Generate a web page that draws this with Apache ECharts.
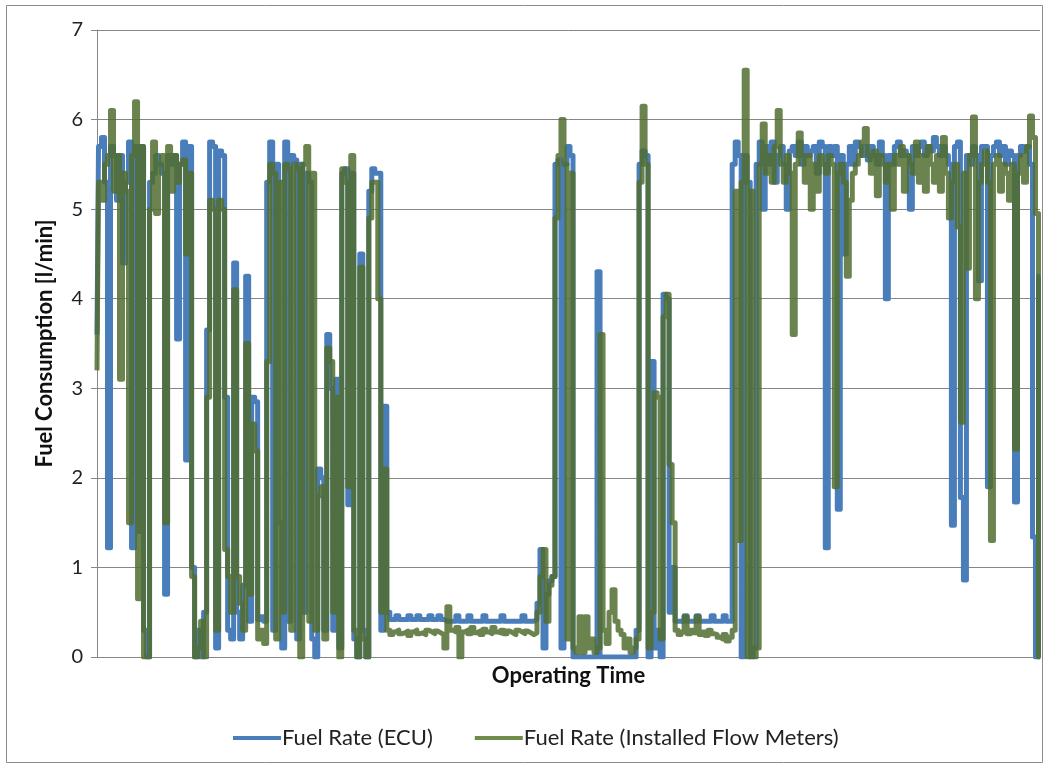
<!DOCTYPE html>
<html>
<head>
<meta charset="utf-8">
<script src="https://cdn.jsdelivr.net/npm/echarts@6/dist/echarts.min.js"></script>
<style>
  html, body { margin: 0; padding: 0; background: #ffffff; }
  #chart { width: 1049px; height: 770px; }
</style>
</head>
<body>
<div id="chart"></div>
<script>
// Y axis tick labels
const yTicks = [0, 1, 2, 3, 4, 5, 6, 7];

// Fuel Rate (ECU) [l/min], sampled along operating time
const fuelEcu = [
  3.6, 5.7, 5.8, 5.3, 1.22, 5.7, 5.6, 5.1, 5.6, 4.4,
  5.3, 5.75, 1.22, 5.7, 1.4, 5.7, 0.3, 0, 5.3, 5.4,
  5.6, 5.5, 5.4, 0.7, 5.6, 5.5, 5.6, 3.55, 5.5, 5.75,
  2.2, 5.7, 1.0, 0, 0.3, 0, 0.5, 3.65, 5.75, 5.7,
  0.1, 5.65, 5.6, 2.9, 0.3, 0.2, 4.4, 0.5, 0.2, 0.8,
  4.25, 0.4, 2.9, 2.85, 0.42, 0.45, 0.4, 5.3, 5.75, 0.3,
  5.5, 1.5, 0.1, 5.75, 0.4, 5.6, 5.55, 0.2, 5.5, 0.5,
  5.4, 5.3, 0.2, 0, 2.1, 2.0, 0.3, 3.6, 3.0, 0.3,
  3.1, 0.1, 5.4, 5.45, 1.7, 5.4, 0.2, 0, 4.5, 0.3,
  0, 5.2, 5.45, 5.4, 5.4, 0.3, 2.8, 0.5, 0.42, 0.42,
  0.46, 0.42, 0.42, 0.42, 0.46, 0.42, 0.42, 0.46, 0.42, 0.42,
  0.42, 0.46, 0.42, 0.42, 0.46, 0.42, 0.4, 0.4, 0.4, 0.4,
  0.46, 0.4, 0.4, 0.4, 0.46, 0.4, 0.4, 0.4, 0.4, 0.46,
  0.4, 0.4, 0.4, 0.4, 0.4, 0.46, 0.4, 0.4, 0.4, 0.4,
  0.4, 0.4, 0.46, 0.4, 0.4, 0.4, 0.42, 0.6, 1.2, 0.1,
  0.7, 0.85, 0.9, 5.5, 5.55, 0.1, 5.5, 5.7, 5.6, 0,
  0, 0, 0, 0, 0, 0, 0, 4.3, 0, 0,
  0, 0, 0, 0, 0, 0, 0, 0, 0, 0,
  0.3, 5.5, 5.65, 5.6, 0, 3.3, 0.1, 0.3, 0, 4.05,
  4.0, 0.5, 1.0, 0.4, 0.4, 0.4, 0.46, 0.4, 0.4, 0.4,
  0.46, 0.4, 0.4, 0.4, 0.4, 0.46, 0.4, 0.4, 0.4, 0.46,
  0.4, 0.4, 5.5, 5.75, 5.6, 0, 5.6, 5.3, 0, 0.1,
  5.5, 5.75, 5.0, 5.7, 5.5, 5.75, 5.3, 5.6, 5.7, 5.5,
  5.0, 5.65, 5.7, 5.6, 5.75, 5.5, 5.7, 5.6, 5.65, 5.7,
  5.4, 5.75, 5.7, 1.22, 5.7, 5.6, 5.7, 1.65, 5.6, 4.5,
  5.5, 5.7, 5.5, 5.75, 5.7, 5.6, 5.7, 5.55, 5.7, 5.6,
  5.5, 5.75, 5.6, 4.0, 5.6, 5.5, 5.7, 5.75, 5.6, 5.65,
  5.6, 5.0, 5.7, 5.6, 5.7, 5.75, 5.6, 5.7, 5.65, 5.8,
  5.7, 5.6, 5.7, 5.6, 5.5, 1.47, 5.7, 5.75, 1.78, 0.86,
  5.6, 5.5, 5.7, 5.6, 4.2, 5.7, 5.7, 1.9, 5.6, 5.7,
  5.75, 5.6, 5.7, 5.5, 5.65, 5.6, 1.73, 5.6, 5.7, 5.65,
  5.7, 5.5, 1.34, 0, 4.25
];

// Fuel Rate (Installed Flow Meters) [l/min]
const fuelMeter = [
  3.2, 5.3, 5.1, 5.5, 5.6, 6.1, 5.2, 5.6, 3.1, 5.4,
  5.2, 1.5, 5.6, 6.2, 0.65, 5.7, 0, 0, 5.0, 5.75,
  4.95, 5.5, 5.6, 1.5, 5.7, 5.2, 5.6, 5.3, 5.5, 5.55,
  4.5, 5.4, 0.9, 0, 0.1, 0.4, 0, 2.9, 5.1, 5.0,
  0.3, 5.1, 5.0, 1.2, 0.9, 0.5, 4.1, 0.9, 0.6, 0.3,
  3.5, 0.7, 2.6, 2.3, 0.2, 0.3, 0.15, 3.3, 5.5, 5.4,
  0.2, 5.3, 0.5, 5.5, 5.45, 0.3, 5.5, 5.45, 0, 5.5,
  5.7, 0.4, 5.4, 0.3, 1.8, 1.9, 0.2, 3.45, 3.3, 0.5,
  2.9, 0, 5.45, 5.3, 1.9, 5.6, 0.3, 0, 4.35, 0.2,
  0, 4.9, 5.3, 5.3, 4.0, 0.5, 2.1, 0.3, 0.25, 0.28,
  0.3, 0.26, 0.27, 0.29, 0.24, 0.28, 0.3, 0.26, 0.27, 0.25,
  0.3, 0.28, 0.26, 0.29, 0.27, 0.25, 0.1, 0.56, 0.3, 0.28,
  0.33, 0, 0.28, 0.3, 0.26, 0.33, 0.27, 0.29, 0.25, 0.31,
  0.28, 0.26, 0.33, 0.28, 0.27, 0.3, 0.26, 0.29, 0.27, 0.25,
  0.3, 0.28, 0.26, 0.29, 0.27, 0.25, 0.27, 0.5, 0.9, 1.2,
  0.4, 0.8, 0.9, 4.9, 5.6, 6.0, 5.5, 0.2, 5.4, 0.1,
  0.05, 0.45, 0.05, 0.45, 0.1, 0.2, 0.05, 0.1, 3.6, 0.3,
  0.15, 0.5, 0.75, 0.4, 0.3, 0.25, 0.1, 0.2, 0.05, 0.1,
  0.2, 5.3, 6.15, 5.5, 0.1, 0.5, 2.95, 2.9, 0.2, 3.8,
  4.05, 2.15, 1.5, 0.3, 0.25, 0.28, 0.45, 0.26, 0.3, 0.27,
  0.45, 0.25, 0.28, 0.24, 0.3, 0.26, 0.25, 0.22, 0.2, 0.25,
  0.18, 0.22, 0.3, 5.2, 1.3, 5.3, 6.55, 0, 5.2, 0,
  0.1, 5.5, 5.95, 5.4, 5.6, 5.3, 5.7, 6.1, 5.5, 5.3,
  5.6, 5.4, 3.6, 5.5, 5.85, 5.6, 5.3, 5.6, 5.0, 5.5,
  5.2, 5.6, 5.5, 5.4, 5.6, 5.5, 1.9, 5.4, 5.5, 5.3,
  4.25, 5.1, 5.4, 5.5, 5.6, 5.75, 5.9, 5.6, 5.4, 5.65,
  5.15, 5.6, 5.5, 5.3, 5.5, 5.0, 5.6, 5.5, 5.7, 5.2,
  5.6, 5.5, 5.4, 5.75, 5.3, 5.6, 5.2, 5.7, 5.5, 5.3,
  5.6, 5.2, 5.8, 5.4, 4.9, 5.3, 5.5, 4.8, 2.62, 5.4,
  4.34, 5.6, 6.03, 4.0, 5.3, 5.5, 5.65, 5.3, 1.3, 5.5,
  5.6, 5.2, 5.5, 5.4, 5.1, 5.5, 2.32, 5.4, 5.6, 5.3,
  5.7, 6.04, 5.8, 4.95, 0
];

// Operating time samples (unlabelled category axis)
const timeSteps = fuelEcu.map((_, i) => i);

const FONT = 'Lato';
const chart = echarts.init(document.getElementById('chart'), null, { renderer: 'canvas' });

chart.setOption({
  animation: false,
  backgroundColor: '#ffffff',
  textStyle: { fontFamily: FONT },
  graphic: [{
    type: 'rect',
    shape: { x: 6.5, y: 5.5, width: 1036, height: 757 },
    style: { fill: 'none', stroke: '#8c8c8c', lineWidth: 1 },
    silent: true
  }],
  grid: { left: 97, right: 9, top: 30, bottom: 113, containLabel: false },
  legend: {
    left: 228,
    top: 722,
    icon: 'rect',
    itemWidth: 48,
    itemHeight: 4,
    itemGap: 42,
    textStyle: { fontFamily: FONT, fontSize: 22, color: '#222', padding: [0, 0, 0, -4] },
    data: ['Fuel Rate (ECU)', 'Fuel Rate (Installed Flow Meters)']
  },
  xAxis: {
    type: 'category',
    data: timeSteps,
    boundaryGap: false,
    name: 'Operating Time',
    nameLocation: 'middle',
    nameGap: 8,
    nameTextStyle: { fontFamily: FONT, fontSize: 22, fontWeight: 'bold', color: '#111', verticalAlign: 'top' },
    axisLine: { lineStyle: { color: '#868686', width: 1 } },
    axisTick: { show: false },
    axisLabel: { show: false },
    splitLine: { show: false }
  },
  yAxis: {
    type: 'value',
    min: yTicks[0],
    max: yTicks[yTicks.length - 1],
    interval: 1,
    name: 'Fuel Consumption [l/min]',
    nameLocation: 'middle',
    nameRotate: 90,
    nameGap: 41,
    nameTextStyle: { fontFamily: FONT, fontSize: 22, fontWeight: 'bold', color: '#111' },
    axisLine: { show: true, lineStyle: { color: '#868686', width: 1 } },
    axisTick: { show: true, length: 6, lineStyle: { color: '#868686' } },
    axisLabel: { fontFamily: FONT, fontSize: 20, color: '#222', margin: 14 },
    splitLine: { show: true, lineStyle: { color: '#868686', width: 1 } }
  },
  series: [
    {
      name: 'Fuel Rate (ECU)',
      type: 'line',
      step: 'middle',
      data: fuelEcu,
      showSymbol: false,
      symbol: 'none',
      sampling: null,
      lineStyle: { color: '#4A7EBB', width: 5, join: 'round' },
      itemStyle: { color: '#4A7EBB' },
      z: 2
    },
    {
      name: 'Fuel Rate (Installed Flow Meters)',
      type: 'line',
      step: 'middle',
      data: fuelMeter,
      showSymbol: false,
      symbol: 'none',
      sampling: null,
      lineStyle: { color: '#516d2f', width: 5, opacity: 0.85, join: 'round' },
      itemStyle: { color: '#6f8c48' },
      z: 3
    }
  ]
});
</script>
</body>
</html>
